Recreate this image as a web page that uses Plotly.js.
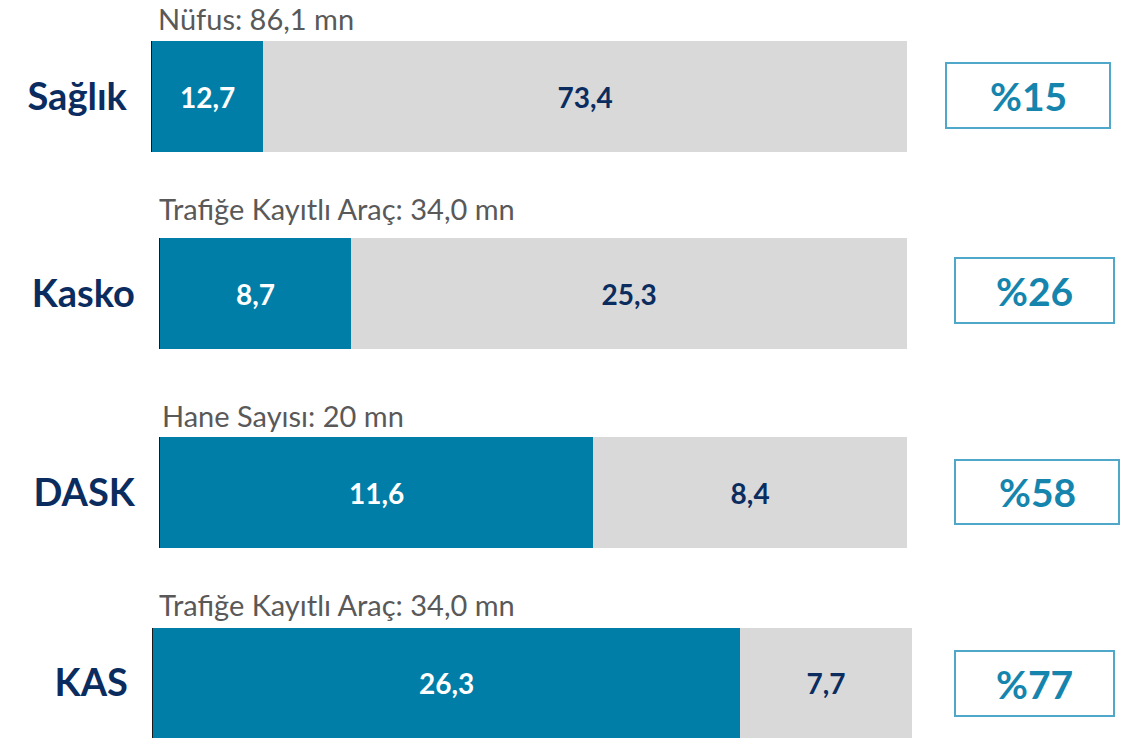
<!DOCTYPE html>
<html>
<head>
<meta charset="utf-8">
<script src="https://cdn.plot.ly/plotly-3.0.1.min.js"></script>
<style>html,body{margin:0;padding:0;background:#fff;}#chart{width:1122px;height:738px;}</style>
</head>
<body>
<div id="chart"></div>
<script>
// ---- data ----
const categories = ['Sağlık', 'Kasko', 'DASK', 'KAS'];
const covered = [12.7, 8.7, 11.6, 26.3];
const uncovered = [73.4, 25.3, 8.4, 7.7];
const totalLabels = ['Nüfus: 86,1 mn', 'Trafiğe Kayıtlı Araç: 34,0 mn', 'Hane Sayısı: 20 mn', 'Trafiğe Kayıtlı Araç: 34,0 mn'];
const shares = ['%15', '%26', '%58', '%77'];

// ---- layout geometry (pixels in 1122x738) ----
const W = 1122, H = 738;
const px = x => x / W;
const py = y => 1 - y / H;
const barBoxes = [
  {x0: 152, x1: 907, y0: 41, y1: 152},
  {x0: 160, x1: 907, y0: 238, y1: 349},
  {x0: 160, x1: 907, y0: 437, y1: 548},
  {x0: 153, x1: 912, y0: 628, y1: 738}
];
const subPos = [{x: 156, y: 18}, {x: 157, y: 209}, {x: 160, y: 416}, {x: 157, y: 604}];
const shareBoxes = [
  {x0: 946, x1: 1110, y0: 63, y1: 128},
  {x0: 955, x1: 1114, y0: 258, y1: 323},
  {x0: 955, x1: 1119, y0: 460, y1: 524},
  {x0: 955, x1: 1114, y0: 651, y1: 716}
];

const TEAL = '#007EA7', GRAY = '#D9D9D9', NAVY = '#0B2C5F';
const FONT = 'Lato, "Open Sans", sans-serif';
const fmt = v => v.toFixed(1).replace('.', ',');

const data = [];
const layout = {
  width: W, height: H,
  margin: {l: 0, r: 0, t: 0, b: 0},
  paper_bgcolor: '#fff', plot_bgcolor: '#fff',
  barmode: 'stack', bargap: 0,
  showlegend: false,
  font: {family: FONT},
  shapes: [], annotations: []
};

categories.forEach((cat, i) => {
  const n = i === 0 ? '' : String(i + 1);
  const xa = 'x' + n, ya = 'y' + n;
  data.push({
    type: 'bar', orientation: 'h', x: [covered[i]], y: [cat],
    xaxis: xa, yaxis: ya, width: 1,
    marker: {color: TEAL, line: {width: 0}},
    text: [fmt(covered[i])], textposition: 'inside', insidetextanchor: 'middle',
    textfont: {color: '#ffffff', size: 28, family: FONT, weight: 'bold'},
    hoverinfo: 'skip'
  });
  data.push({
    type: 'bar', orientation: 'h', x: [uncovered[i]], y: [cat],
    xaxis: xa, yaxis: ya, width: 1,
    marker: {color: GRAY, line: {width: 0}},
    text: [fmt(uncovered[i])], textposition: 'inside', insidetextanchor: 'middle',
    textfont: {color: NAVY, size: 28, family: FONT, weight: 'bold'},
    hoverinfo: 'skip'
  });
  const b = barBoxes[i];
  layout['xaxis' + n] = {
    domain: [px(b.x0), px(b.x1)], anchor: ya,
    range: [0, covered[i] + uncovered[i]],
    showgrid: false, zeroline: false, showticklabels: false, ticks: '', showline: false, fixedrange: true
  };
  layout['yaxis' + n] = {
    domain: [py(b.y1), py(b.y0)], anchor: xa,
    range: [-0.5, 0.5], type: 'category',
    showgrid: false, zeroline: false, ticks: '',
    showline: true, linecolor: '#1a1a1a', linewidth: 1.5,
    ticklabelstandoff: 16,
    tickfont: {family: FONT, size: 38, color: NAVY, weight: 'bold'},
    fixedrange: true
  };
  layout.annotations.push({
    xref: 'paper', yref: 'paper', x: px(subPos[i].x), y: py(subPos[i].y),
    xanchor: 'left', yanchor: 'middle', showarrow: false,
    text: totalLabels[i], font: {family: FONT, size: 29, color: '#595959'}
  });
  const s = shareBoxes[i];
  layout.shapes.push({
    type: 'rect', xref: 'paper', yref: 'paper',
    x0: px(s.x0), x1: px(s.x1), y0: py(s.y1), y1: py(s.y0),
    line: {color: '#4FA8C9', width: 2}, fillcolor: 'rgba(0,0,0,0)'
  });
  layout.annotations.push({
    xref: 'paper', yref: 'paper', x: px((s.x0 + s.x1) / 2), y: py((s.y0 + s.y1) / 2),
    xanchor: 'center', yanchor: 'middle', showarrow: false,
    text: shares[i], font: {family: FONT, size: 39, color: '#1585AD', weight: 'bold'}
  });
});

Plotly.newPlot('chart', data, layout, {displayModeBar: false, staticPlot: true});
</script>
</body>
</html>
